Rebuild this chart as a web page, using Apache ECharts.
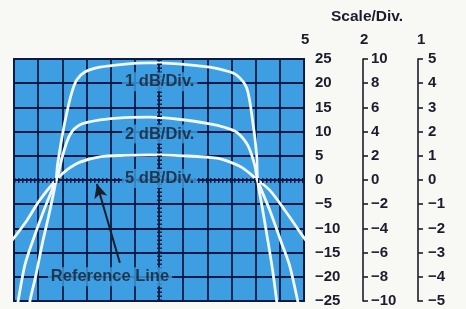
<!DOCTYPE html>
<html><head><meta charset="utf-8">
<script src="https://cdn.jsdelivr.net/npm/echarts@6/dist/echarts.min.js"></script>
<style>html,body{margin:0;padding:0;background:#f8f8f5}#c{width:466px;height:309px}</style>
</head><body><div id="c"></div>
<script>
// Curves: x in graticule divisions (0..12), y on the 5 dB/Div scale (-25..25)
const curve1dB = [[0.62,-27],[0.66,-25],[0.91,-19.6],[1.16,-13.4],[1.49,-6.2],[1.74,0],[1.80,3.1],[1.98,8.7],[2.19,14.0],[2.40,18.2],[2.60,20.7],[2.93,22.3],[3.55,23.3],[4.5,23.9],[5.62,24.2],[6.8,24.0],[8.10,23.3],[8.75,22.6],[9.21,21.7],[9.63,19.0],[9.88,12.0],[10.04,5.2],[10.08,0],[10.29,-6.2],[10.50,-12.4],[10.70,-18.6],[10.87,-25],[10.92,-27]];
const curve2dB = [[0.10,-27],[0.17,-25],[0.45,-17.6],[0.79,-12.4],[1.24,-6.2],[1.74,0],[1.82,1.0],[2.02,5.2],[2.31,9.3],[2.73,11.4],[3.55,12.4],[4.6,12.9],[5.62,13.0],[6.9,12.5],[8.10,11.6],[8.7,10.9],[9.21,9.9],[9.67,7.2],[9.96,3.1],[10.08,0],[10.58,-6.2],[11.07,-13.0],[11.40,-17.6],[11.74,-25],[11.80,-27]];
const curve5dB = [[-0.1,-12.6],[0.54,-8.3],[1.07,-4.1],[1.74,0],[2.19,2.1],[2.73,3.7],[3.55,4.8],[4.6,5.1],[5.62,5.2],[7.0,5.0],[8.39,4.5],[9.0,3.6],[9.46,2.5],[10.08,0],[10.58,-2.1],[11.20,-6.2],[11.98,-11.8],[12.1,-12.6]];
const scaleHeaders = ['5','2','1'];
const scaleMax = [25,10,5];
const scaleStep = [5,2,1];
const divisionsX = 12;
const centerX = 6;
const referenceLevel = 0;
const annotationText = ['1 dB/Div.','2 dB/Div.','5 dB/Div.','Reference Line'];
const annotationX = [6.03, 6.03, 6.03, 3.97];
const annotationY = [20.3, 9.5, 0.3, -20];
const arrowTail = [4.38, -17.1];
const arrowHead = [3.43, -0.8];

const ink = '#1b1d2b';
const gridInk = '#0c1a45';
const blue = '#3d9ee2';
const font = 'Liberation Sans, Arial, sans-serif';
const fmt = v => (v < 0 ? '\u2212' + (-v) : String(v));
const offsets = [0, 59, 114];
const margins = [11, 8, 10];
const headerLeft = [301, 360, 417];

const chart = echarts.init(document.getElementById('c'));
chart.setOption({
  animation: false,
  title: [{ text: 'Scale/Div.', left: 326, top: 4, textStyle: { color: ink, fontSize: 15.5, fontWeight: 'bold', fontFamily: font } }]
    .concat(scaleHeaders.map((h, i) => ({ text: h, left: headerLeft[i], top: 32, padding: 0, textStyle: { color: ink, fontSize: 15, fontWeight: 'bold', fontFamily: font } }))),
  grid: { left: 14, top: 59, right: 162, bottom: 8, show: true, backgroundColor: blue, borderColor: gridInk, borderWidth: 2, outerBoundsMode: 'none', containLabel: false },
  xAxis: { type: 'value', min: 0, max: divisionsX, interval: 1, axisLine: { show: false }, axisTick: { show: false }, axisLabel: { show: false }, splitLine: { show: true, lineStyle: { color: gridInk, width: 1.8 } } },
  yAxis: scaleMax.map((m, i) => ({
    type: 'value', min: -m, max: m, interval: scaleStep[i], position: 'right', offset: offsets[i],
    axisLine: { show: true, lineStyle: { color: i > 0 ? ink : gridInk, width: i > 0 ? 1.6 : 2 } },
    axisTick: { show: i > 0, length: 5, lineStyle: { color: ink, width: 1.6 } },
    axisLabel: { show: true, showMinLabel: true, showMaxLabel: true, margin: margins[i], color: ink, fontSize: 15, fontWeight: 'bold', fontFamily: font, formatter: fmt },
    splitLine: { show: i === 0, lineStyle: { color: gridInk, width: 1.8 } }
  })),
  series: [
    { type: 'line', data: [], silent: true, z: 3,
      markLine: { silent: true, symbol: ['none','none'], label: { show: false }, animation: false,
        lineStyle: { color: gridInk, width: 5, type: [1.5, 2.5] },
        data: [{ xAxis: centerX }, { yAxis: referenceLevel }] } },
    ...[curve1dB, curve2dB, curve5dB].map(d => ({
      type: 'line', data: d, showSymbol: false, smooth: 0.3, silent: true, z: 4, clip: true,
      lineStyle: { color: '#f3f8ff', width: 2.8 }
    })),
    { type: 'scatter', z: 10, silent: true, symbolSize: 1, itemStyle: { color: 'rgba(0,0,0,0)' },
      data: annotationX.map((x, i) => [x, annotationY[i], annotationText[i]]),
      label: { show: true, position: 'inside', formatter: p => p.data[2], color: ink, fontSize: 16.5, fontWeight: 'bold', fontFamily: font, backgroundColor: blue, padding: [1, 3] },
      markLine: { silent: true, symbol: ['none','arrow'], symbolSize: [10, 14], label: { show: false }, animation: false,
        lineStyle: { color: ink, width: 2, type: 'solid' },
        data: [[{ coord: arrowTail }, { coord: arrowHead }]] } }
  ]
});
</script></body></html>
